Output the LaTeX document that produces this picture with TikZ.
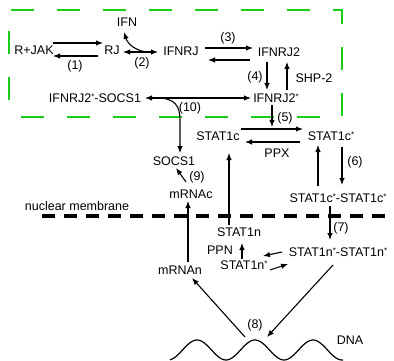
\documentclass[tikz,border=0pt]{standalone}
\usepackage{fontspec}
\setmainfont{Liberation Sans}
\usetikzlibrary{arrows.meta}
\definecolor{boxgreen}{RGB}{25,205,25}
\newcommand{\sta}{{\fontsize{8}{8}\selectfont\raisebox{3pt}{*}}}
\begin{document}
\begin{tikzpicture}[x=1pt,y=-1pt,
  lbl/.style={inner sep=0pt, font=\fontsize{12.5}{14}\selectfont},
  arr/.style={-{Latex[length=7pt,width=5.5pt]}, line width=1.1pt},
  darr/.style={{Latex[length=7pt,width=5.5pt]}-{Latex[length=7pt,width=5.5pt]}, line width=1.1pt},
  greenbox/.style={boxgreen, line width=2.5pt, dash pattern=on 23pt off 23pt, dash phase=29pt},
  membrane/.style={line width=4pt, dash pattern=on 13pt off 9pt}]
\useasboundingbox (0,0) rectangle (394,361);

% green region
\draw[greenbox] (9,117) -- (9,10) -- (342,10) -- (342,117) -- cycle;

% membrane
\coordinate (mL) at (42,216);
\coordinate (mR) at (394,216);
\draw[membrane] (mL) -- (mR);

% DNA wave
\draw[line width=1.2pt] plot[domain=170:343, samples=120] (\x, {350 - 10*cos((\x-197)*6.2069)});

% nodes
\node[lbl] (rjak) at (34,50) {R+JAK};
\node[lbl] (rj) at (112,50) {RJ};
\node[lbl] (ifn) at (127,22) {IFN};
\node[lbl] (ifnrj) at (181,51) {IFNRJ};
\node[lbl] (ifnrj2) at (279,52) {IFNRJ2};
\node[lbl] (ifnrj2s) at (276,98) {IFNRJ2\sta};
\node[lbl] (shp) at (314,78) {SHP-2};
\node[lbl] (cplx) at (95,98) {IFNRJ2\sta-SOCS1};
\node[lbl] (socs) at (174,161) {SOCS1};
\node[lbl] (mrnac) at (191,194) {mRNAc};
\node[lbl] (memb) at (77,206) {nuclear membrane};
\node[lbl] (s1c) at (218,136) {STAT1c};
\node[lbl] (s1cs) at (331,136) {STAT1c\sta};
\node[lbl] (ppx) at (277,153) {PPX};
\node[lbl] (dimc) at (338,198) {STAT1c\sta-STAT1c\sta};
\node[lbl] (s1n) at (239,232) {STAT1n};
\node[lbl] (ppn) at (220,250) {PPN};
\node[lbl] (s1ns) at (244,265) {STAT1n\sta};
\node[lbl] (dimn) at (338,252) {STAT1n\sta-STAT1n\sta};
\node[lbl] (mrnan) at (180,270) {mRNAn};
\node[lbl] (dna) at (350,340) {DNA};

\node[lbl] (l1) at (75,66) {(1)};
\node[lbl] (l2) at (142,63) {(2)};
\node[lbl] (l3) at (228,38) {(3)};
\node[lbl] (l4) at (255,77) {(4)};
\node[lbl] (l5) at (285,118) {(5)};
\node[lbl] (l6) at (355,162) {(6)};
\node[lbl] (l7) at (341,228) {(7)};
\node[lbl] (l8) at (255,325) {(8)};
\node[lbl] (l9) at (197,177) {(9)};
\node[lbl] (l10) at (190,108) {(10)};

% helper coordinates
\coordinate (c2) at (147,52);
\coordinate (c10) at (157,98);
\coordinate (k10) at (180,120);
\coordinate (c5) at (272,127);
\coordinate (w8) at (267,337);
\coordinate (wm) at (245,337);

% (1)
\draw[arr] ([shift={(19,-7)}]rjak.center) -- ([shift={(-9,-7)}]rj.center);
\draw[arr] ([shift={(-14,6)}]rj.center) -- ([shift={(19,6)}]rjak.center);
% (2)
\draw[darr] ([shift={(11,2)}]rj.center) -- ([shift={(-23,1)}]ifnrj.center);
\draw[arr] (c2) .. controls (137,51) and (128,45) .. ([shift={(-3,10)}]ifn.center);
% (3)
\draw[arr] ([shift={(24,-3)}]ifnrj.center) -- ([shift={(-26,-4)}]ifnrj2.center);
\draw[arr] ([shift={(-29,8)}]ifnrj2.center) -- ([shift={(27,9)}]ifnrj.center);
% (4) and SHP-2
\draw[arr] ([shift={(-12,10)}]ifnrj2.center) -- ([shift={(-9,-8)}]ifnrj2s.center);
\draw[arr] ([shift={(11,-8)}]ifnrj2s.center) -- ([shift={(8,10)}]ifnrj2.center);
% (10)
\draw[darr] ([shift={(50,0)}]cplx.center) -- ([shift={(-25,0)}]ifnrj2s.center);
\draw[arr] (c10) .. controls (175,98) and (180,106) .. (k10) -- ([shift={(6,-8)}]socs.center);
% (5)
\draw[arr] ([shift={(-4,7)}]ifnrj2s.center) -- (c5);
\draw[arr] ([shift={(23,-7)}]s1c.center) -- ([shift={(-28,-7)}]s1cs.center);
% PPX
\draw[arr] ([shift={(-31,6)}]s1cs.center) -- ([shift={(27,6)}]s1c.center);
% (6)
\draw[arr] ([shift={(11,11)}]s1cs.center) -- ([shift={(4,-13)}]dimc.center);
\draw[arr] ([shift={(-20,-12)}]dimc.center) -- ([shift={(-13,9)}]s1cs.center);
% STAT1n -> STAT1c
\draw[arr] ([shift={(-10,-7)}]s1n.center) -- ([shift={(11,17)}]s1c.center);
% (9)
\draw[arr] ([shift={(-5,-12)}]mrnac.center) -- ([shift={(2,7)}]socs.center);
% mRNAn -> mRNAc
\draw[arr] ([shift={(8,-8)}]mrnan.center) -- ([shift={(-3,7)}]mrnac.center);
% (7)
\draw[arr] ([shift={(-8,8)}]dimc.center) -- ([shift={(-8,-12)}]dimn.center);
% PPN
\draw[arr] ([shift={(-2,-6)}]s1ns.center) -- ([shift={(3,11)}]s1n.center);
% dimer <-> STAT1n*
\draw[arr] ([shift={(-56,0)}]dimn.center) -- ([shift={(19,-9)}]s1ns.center);
\draw[arr] ([shift={(26,5)}]s1ns.center) -- ([shift={(-50,12)}]dimn.center);
% (8)
\draw[arr] ([shift={(-5,13)}]dimn.center) -- (w8);
\draw[arr] (wm) -- ([shift={(12,8)}]mrnan.center);
\end{tikzpicture}
\end{document}
